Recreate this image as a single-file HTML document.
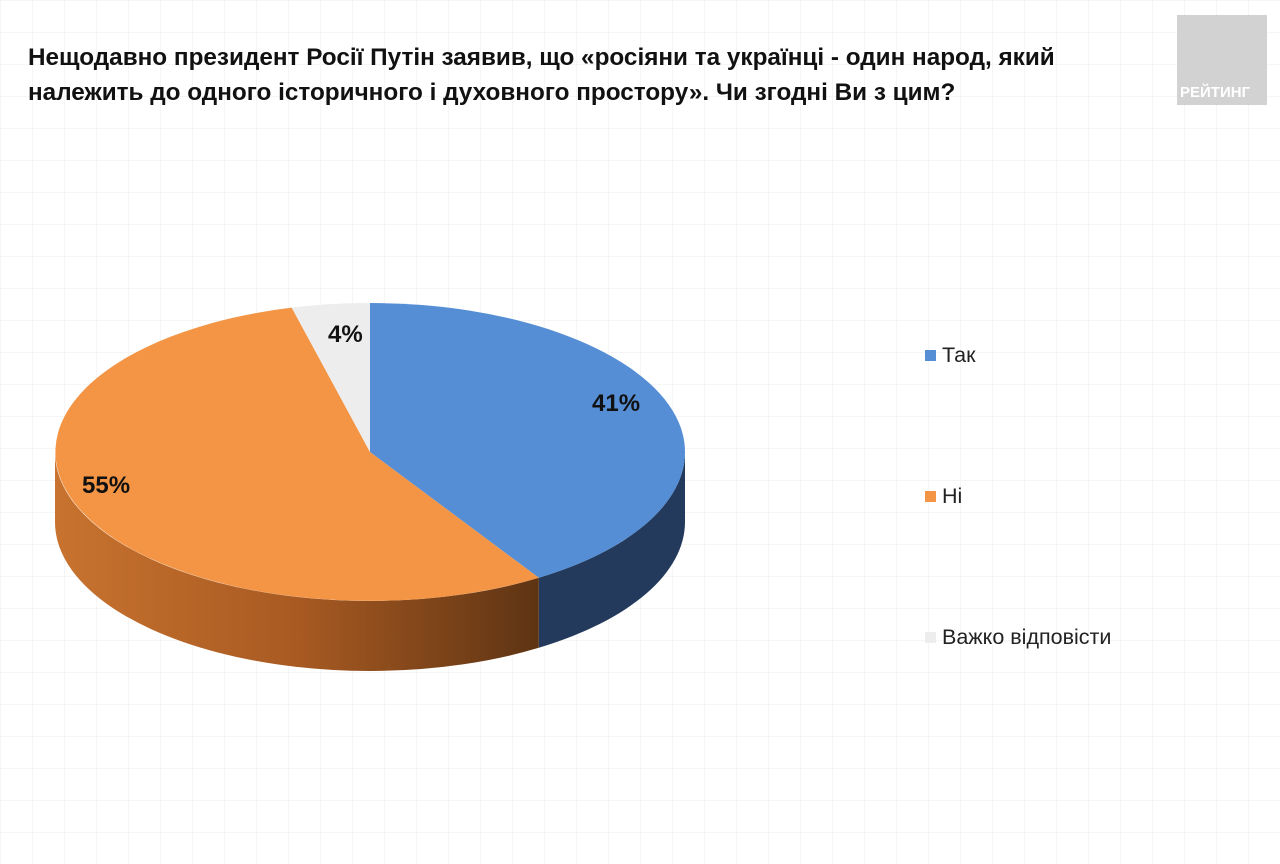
<!DOCTYPE html>
<html><head><meta charset="utf-8"><style>
body{margin:0;width:1280px;height:864px;background:#fff;font-family:"Liberation Sans",sans-serif;position:relative;overflow:hidden;
background-image:linear-gradient(#f5f5f5 1px,transparent 1px),linear-gradient(90deg,#f5f5f5 1px,transparent 1px);background-size:32px 32px;}
.t{position:absolute;left:28px;top:40px;font-size:24.3px;font-weight:bold;color:#111;line-height:35px;white-space:nowrap;}
.logo{position:absolute;left:1177px;top:15px;width:90px;height:90px;background:#d2d2d2;}
.logo span{position:absolute;left:3px;bottom:4px;color:#fff;font-weight:bold;font-size:15px;}
.lg{position:absolute;font-size:21.5px;color:#222;}
.sq{position:absolute;width:11px;height:11px;}
</style></head><body>
<div class="t">Нещодавно президент Росії Путін заявив, що «росіяни та українці - один народ, який<br>належить до одного історичного і духовного простору». Чи згодні Ви з цим?</div>
<div class="logo"><span>РЕЙТИНГ</span></div>
<svg width="1280" height="864" style="position:absolute;left:0;top:0">
<defs><linearGradient id="og" x1="0" x2="1"><stop offset="0" stop-color="#c8732f"/><stop offset="0.5" stop-color="#a85a22"/><stop offset="1" stop-color="#5e3413"/></linearGradient></defs>
<path d="M685,452 A315,149 0 0 1 538.8,577.8 L538.8,647.8 A315,149 0 0 0 685,522 Z" fill="#243a5c"/>
<path d="M538.8,577.8 A315,149 0 0 1 55,452 L55,522 A315,149 0 0 0 538.8,647.8 Z" fill="url(#og)"/>
<path d="M370,452 L370,303 A315,149 0 0 1 538.8,577.8 Z" fill="#558ed5"/>
<path d="M370,452 L538.8,577.8 A315,149 0 1 1 291.7,307.6 Z" fill="#f39545"/>
<path d="M370,452 L291.7,307.6 A315,149 0 0 1 370,303 Z" fill="#ededed"/>
<g font-weight="bold" font-size="24" fill="#111" font-family="Liberation Sans,sans-serif">
<text x="592" y="411">41%</text><text x="328" y="342">4%</text><text x="82" y="493">55%</text></g>
</svg>
<div class="sq" style="left:925px;top:350px;background:#558ed5"></div><div class="lg" style="left:942px;top:343px">Так</div>
<div class="sq" style="left:925px;top:491px;background:#f39545"></div><div class="lg" style="left:942px;top:484px">Ні</div>
<div class="sq" style="left:925px;top:632px;background:#ededed"></div><div class="lg" style="left:942px;top:625px">Важко відповісти</div>
</body></html>
